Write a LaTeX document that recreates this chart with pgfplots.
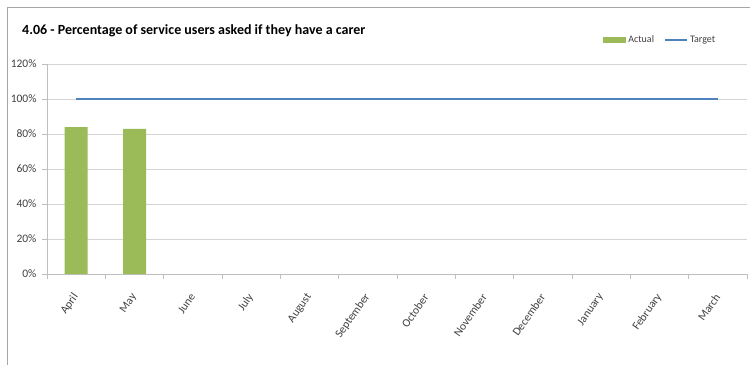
\documentclass[border=0pt]{standalone}
\usepackage{pgfplots}
\pgfplotsset{compat=1.18}
\usepackage{fontspec}
\setmainfont{Carlito}
\definecolor{actualgreen}{HTML}{9BBB59}
\definecolor{targetblue}{HTML}{4F81BD}
\definecolor{gridgray}{HTML}{D4D4D4}
\definecolor{axisgray}{HTML}{BFBFBF}
\definecolor{labelgray}{HTML}{404040}

\begin{document}
\begin{tikzpicture}[x=1pt,y=1pt]
  \path[use as bounding box] (0,0) rectangle (750,365);
  % outer chart frame
  \draw[gray!70, line width=1pt] (7.5,0) -- (7.5,357.5) -- (750,357.5);
  % title
  \node[anchor=base west, inner sep=0pt, font=\bfseries\fontsize{14}{16}\selectfont]
    at (22,330) {4.06 - Percentage of service users asked if they have a carer};
  \begin{axis}[
    at={(47pt,91pt)}, anchor=south west,
    scale only axis, width=700pt, height=210pt,
    xmin=-0.5, xmax=11.5, ymin=0, ymax=120,
    axis x line*=bottom, axis y line*=left,
    axis line style={axisgray, line width=0.8pt, -},
    ytick={0,20,40,60,80,100,120},
    yticklabels={0\%,20\%,40\%,60\%,80\%,100\%,120\%},
    xtick={-0.5,0.5,...,11.5},
    xticklabels={},
    extra x ticks={0,1,2,3,4,5,6,7,8,9,10,11},
    extra x tick labels={April,May,June,July,August,September,October,November,December,January,February,March},
    extra x tick style={major tick length=0pt,
      xticklabel style={xshift=0.5pt, yshift=-20pt, rotate=55, anchor=east, inner sep=1pt,
        font=\fontsize{11.5}{12}\selectfont}},
    tick style={axisgray, line width=0.8pt},
    major tick length=5pt,
    tick align=outside,
    ymajorgrids, grid style={gridgray, line width=0.9pt},
    ticklabel style={font=\fontsize{11.5}{12}\selectfont, text=labelgray},
    /pgf/number format/assume math mode=true,
    yticklabel style={xshift=-2pt},
    legend columns=2,
    legend style={at={(0.962,1.114)}, anchor=east, draw=none, fill=none,
      font=\fontsize{10}{10}\selectfont, text=labelgray,
      /tikz/every even column/.append style={column sep=8pt}},
    legend image code/.code={},
  ]
    \addplot[ybar, bar width=23pt, fill=actualgreen, draw=none,
      legend image code/.code={\fill[actualgreen] (0pt,-3pt) rectangle (23pt,3pt);}]
      coordinates {(0,84) (1,83)};
    \addlegendentry{Actual}
    \addplot[targetblue, line width=2.4pt, mark=none,
      legend image code/.code={\draw[targetblue, line width=2pt] (0pt,0pt) -- (22pt,0pt);}]
      coordinates {(0,100) (1,100) (2,100) (3,100) (4,100) (5,100)
                   (6,100) (7,100) (8,100) (9,100) (10,100) (11,100)};
    \addlegendentry{Target}
  \end{axis}
\end{tikzpicture}
\end{document}
